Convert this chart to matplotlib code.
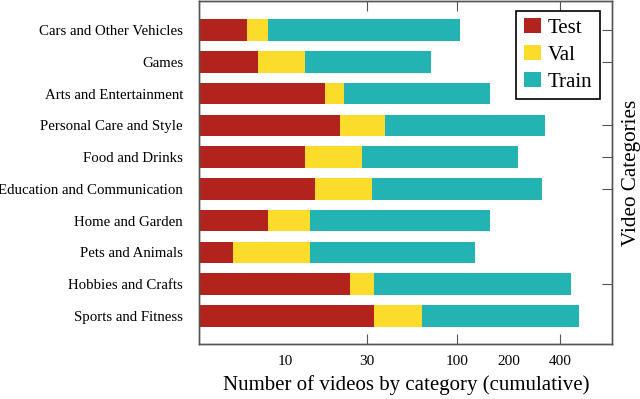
import matplotlib.pyplot as plt
from matplotlib.ticker import FixedLocator, NullFormatter

plt.rcParams['font.family'] = ['Liberation Serif', 'DejaVu Serif']

categories = ['Sports and Fitness', 'Hobbies and Crafts', 'Pets and Animals',
              'Home and Garden', 'Education and Communication', 'Food and Drinks',
              'Personal Care and Style', 'Arts and Entertainment', 'Games',
              'Cars and Other Vehicles']
test = [33, 24, 5, 8, 15, 13, 21, 17, 7, 6]
val = [30, 9, 9, 6, 17, 15, 17, 5, 6, 2]
train = [447, 431, 113, 142, 281, 198, 286, 133, 58, 96]

tick_major = [30, 100, 400]
tick_minor = [10, 200]
right_ticks = ['Hobbies and Crafts', 'Education and Communication', 'Food and Drinks',
               'Personal Care and Style', 'Games', 'Cars and Other Vehicles']

c_test = '#b3231e'
c_val = '#fcdc2b'
c_train = '#23b3b3'

fig = plt.figure(figsize=(6.4, 3.99), dpi=100)
ax = fig.add_axes([0.311, 0.138, 0.646, 0.859])

xmin, xmax = 3.16, 804
y = list(range(len(categories)))
cum_val = [t + v for t, v in zip(test, val)]
h = 0.68
ax.barh(y, [t - xmin for t in test], left=xmin, height=h, color=c_test, label='Test')
ax.barh(y, val, left=test, height=h, color=c_val, label='Val')
ax.barh(y, train, left=cum_val, height=h, color=c_train, label='Train')

ax.set_xscale('log')
ax.set_xlim(xmin, xmax)
ax.set_ylim(-0.88, 9.91)

ax.xaxis.set_major_locator(FixedLocator(tick_major))
ax.xaxis.set_minor_locator(FixedLocator(tick_minor))
ax.set_xticklabels([str(t) for t in tick_major])
ax.xaxis.set_minor_formatter(plt.FixedFormatter([str(t) for t in tick_minor]))
ax.tick_params(axis='x', which='major', direction='in', length=7, top=True,
               labelsize=11, pad=8, color='#555555')
ax.tick_params(axis='x', which='minor', length=0, labelsize=11, pad=8)

ax.set_yticks(y)
ax.set_yticklabels(categories)
ax.tick_params(axis='y', length=0, labelsize=10.7, pad=11.5)

ax2 = ax.twinx()
ax2.set_ylim(ax.get_ylim())
ax2.set_yticks([categories.index(c) for c in right_ticks])
ax2.yaxis.set_major_formatter(NullFormatter())
ax2.tick_params(axis='y', direction='in', length=7, color='#555555')
ax2.set_ylabel('Video Categories', fontsize=15.2, labelpad=3)

for a in (ax, ax2):
    for s in a.spines.values():
        s.set_color('#555555')
        s.set_linewidth(1.0)

ax.set_xlabel('Number of videos by category (cumulative)', fontsize=15, labelpad=5)

leg = ax.legend(loc='upper right', bbox_to_anchor=(0.969, 0.971), borderaxespad=0,
                fontsize=15, fancybox=False, framealpha=1, edgecolor='black',
                handlelength=0.85, handleheight=0.7, borderpad=0.35,
                labelspacing=0.35, handletextpad=0.3)
leg.get_frame().set_linewidth(1.2)

fig.savefig('out.png', dpi=100)
